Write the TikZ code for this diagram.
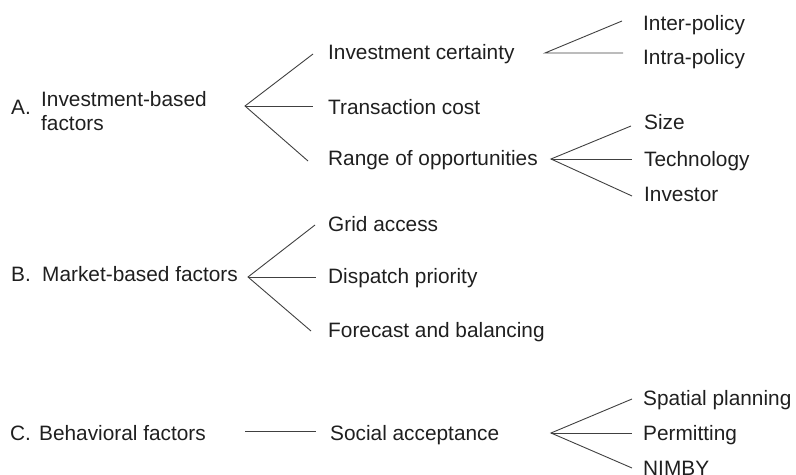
\documentclass[tikz,border=0pt]{standalone}
\usepackage{fontspec}
\setmainfont{Liberation Sans}
\begin{document}
\begin{tikzpicture}[x=1bp,y=-1bp,
  lbl/.style={anchor=base west, inner sep=0pt, font=\fontsize{20.9}{24}\selectfont, text=black!88},
  conn/.style={draw=black!75, line width=0.9bp}]
\useasboundingbox (0,0) rectangle (796,475);
% A group
\node[lbl] (Alab) at (11,115) {A.};
\node[lbl, anchor=north west, align=left] (A) at (41,91) {Investment-based\\factors};
\node[lbl] (ic) at (328,60) {Investment certainty};
\node[lbl] (tc) at (328,115) {Transaction cost};
\node[lbl] (ro) at (328,166) {Range of opportunities};
\node[lbl] (inter) at (643,31) {Inter-policy};
\node[lbl] (intra) at (643,65) {Intra-policy};
\node[lbl] (size) at (644,130) {Size};
\node[lbl] (tech) at (644,167) {Technology};
\node[lbl] (inv) at (644,202) {Investor};
% B group
\node[lbl] (Blab) at (11,282) {B.};
\node[lbl] (B) at (42,282) {Market-based factors};
\node[lbl] (grid) at (328,232) {Grid access};
\node[lbl] (disp) at (328,284) {Dispatch priority};
\node[lbl] (fore) at (328,338) {Forecast and balancing};
% C group
\node[lbl] (Clab) at (10,440) {C.};
\node[lbl] (C) at (39,440) {Behavioral factors};
\node[lbl] (sa) at (330,440) {Social acceptance};
\node[lbl] (sp) at (643,405) {Spatial planning};
\node[lbl] (perm) at (643,440) {Permitting};
\node[lbl] (nimby) at (643,475) {NIMBY};
% fork coordinates
\coordinate (Aap) at (245,106);
\coordinate (Ae1) at (313,54);
\coordinate (Ae2) at (313,106);
\coordinate (Ae3) at (308,161);
\coordinate (icap) at (545,53);
\coordinate (ice1) at (622,21);
\coordinate (ice2) at (623,53);
\coordinate (roap) at (551,159);
\coordinate (roe1) at (631,126);
\coordinate (roe2) at (632,159);
\coordinate (roe3) at (632,196);
\coordinate (Bap) at (248,277);
\coordinate (Be1) at (315,225);
\coordinate (Be2) at (316,277);
\coordinate (Be3) at (311,331);
\coordinate (Cs) at (245,431);
\coordinate (Ce) at (316,431);
\coordinate (saap) at (551,433);
\coordinate (sae1) at (632,399);
\coordinate (sae2) at (632,433);
\coordinate (sae3) at (632,468);
% connectors
\draw[conn] (Ae1) -- (Aap) -- (Ae3);
\draw[conn] (Aap) -- (Ae2);
\draw[conn] (ice1) -- (icap) -- (ice2);
\draw[conn] (roe1) -- (roap) -- (roe3);
\draw[conn] (roap) -- (roe2);
\draw[conn] (Be1) -- (Bap) -- (Be3);
\draw[conn] (Bap) -- (Be2);
\draw[conn] (Cs) -- (Ce);
\draw[conn] (sae1) -- (saap) -- (sae3);
\draw[conn] (saap) -- (sae2);
\end{tikzpicture}
\end{document}
